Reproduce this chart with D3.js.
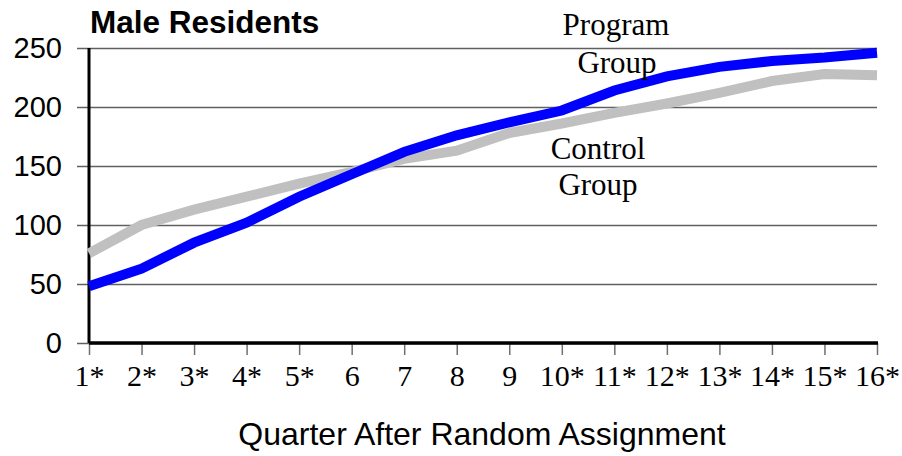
<!DOCTYPE html>
<html>
<head>
<meta charset="utf-8">
<script src="https://d3js.org/d3.v7.min.js"></script>
<style>
  body { margin: 0; background: #fff; }
</style>
</head>
<body>
<div id="chart"></div>
<script>
var quarters = ["1*", "2*", "3*", "4*", "5*", "6", "7", "8", "9", "10*", "11*", "12*", "13*", "14*", "15*", "16*"];
var programGroup = [48, 63, 85, 102, 124, 143, 162, 176, 187, 197, 214, 226, 234, 239, 242, 246];
var controlGroup = [76, 100, 113, 124, 135, 145, 156, 163, 178, 186, 195, 203, 212, 222, 228, 227];
var yTicks = [0, 50, 100, 150, 200, 250];

var margin = {top: 48, right: 25, bottom: 113, left: 89},
    width = 902 - margin.left - margin.right,
    height = 456 - margin.top - margin.bottom;

var sans = "Arial, 'Liberation Sans', sans-serif";
var serif = "'Times New Roman', 'Liberation Serif', serif";

var svg = d3.select("#chart")
  .append("svg")
  .attr("width", 902)
  .attr("height", 456)
  .append("g")
  .attr("transform", "translate(" + margin.left + "," + margin.top + ")");

var x = d3.scalePoint()
  .domain(quarters)
  .range([0, width]);

var y = d3.scaleLinear()
  .domain([0, 250])
  .range([height, 0]);

// gridlines + y labels
var yAxis = svg.append("g")
  .attr("transform", "translate(-12,0)")
  .call(d3.axisLeft(y).tickValues(yTicks).tickSize(-width - 12).tickPadding(15).tickFormat(d3.format("d")));
yAxis.select(".domain").remove();
yAxis.selectAll("line").attr("stroke", "#606060").attr("stroke-width", 1.3);
yAxis.selectAll("text")
  .style("font-family", sans)
  .style("font-size", "29px")
  .attr("fill", "#000");

// x ticks
var xAxis = svg.append("g")
  .attr("transform", "translate(0," + height + ")")
  .call(d3.axisBottom(x).tickSize(12).tickPadding(8));
xAxis.select(".domain").remove();
xAxis.selectAll("line").attr("stroke", "#707070").attr("stroke-width", 1.5);
xAxis.selectAll("text")
  .style("font-family", serif)
  .style("font-size", "30px")
  .attr("fill", "#000")
  .attr("y", 43)
  .attr("dy", 0);

// axis lines
svg.append("line")
  .attr("x1", 0).attr("x2", 0)
  .attr("y1", y(250)).attr("y2", height)
  .attr("stroke", "#000").attr("stroke-width", 3);
svg.append("line")
  .attr("x1", 0).attr("x2", width + 1)
  .attr("y1", height).attr("y2", height)
  .attr("stroke", "#000").attr("stroke-width", 3.5);

var line = d3.line()
  .x(function(d, i) { return x(quarters[i]); })
  .y(function(d) { return y(d); });

svg.append("path")
  .datum(controlGroup)
  .attr("fill", "none")
  .attr("stroke", "#c0c0c0")
  .attr("stroke-width", 10)
  .attr("d", line);

svg.append("path")
  .datum(programGroup)
  .attr("fill", "none")
  .attr("stroke", "#0000ff")
  .attr("stroke-width", 10)
  .attr("d", line);

// labels
function label(txt, cx, by) {
  svg.append("text")
    .attr("x", cx - margin.left)
    .attr("y", by - margin.top)
    .attr("text-anchor", "middle")
    .style("font-family", serif)
    .style("font-size", "31px")
    .text(txt);
}
label("Program", 616, 35);
label("Group", 617, 73);
label("Control", 598, 159);
label("Group", 598, 195);

svg.append("text")
  .attr("x", 1)
  .attr("y", 33 - margin.top)
  .style("font-family", sans)
  .style("font-size", "31.5px")
  .style("font-weight", "bold")
  .text("Male Residents");

svg.append("text")
  .attr("x", 482 - margin.left)
  .attr("y", 445 - margin.top)
  .attr("text-anchor", "middle")
  .style("font-family", sans)
  .style("font-size", "32px")
  .text("Quarter After Random Assignment");
</script>
</body>
</html>
